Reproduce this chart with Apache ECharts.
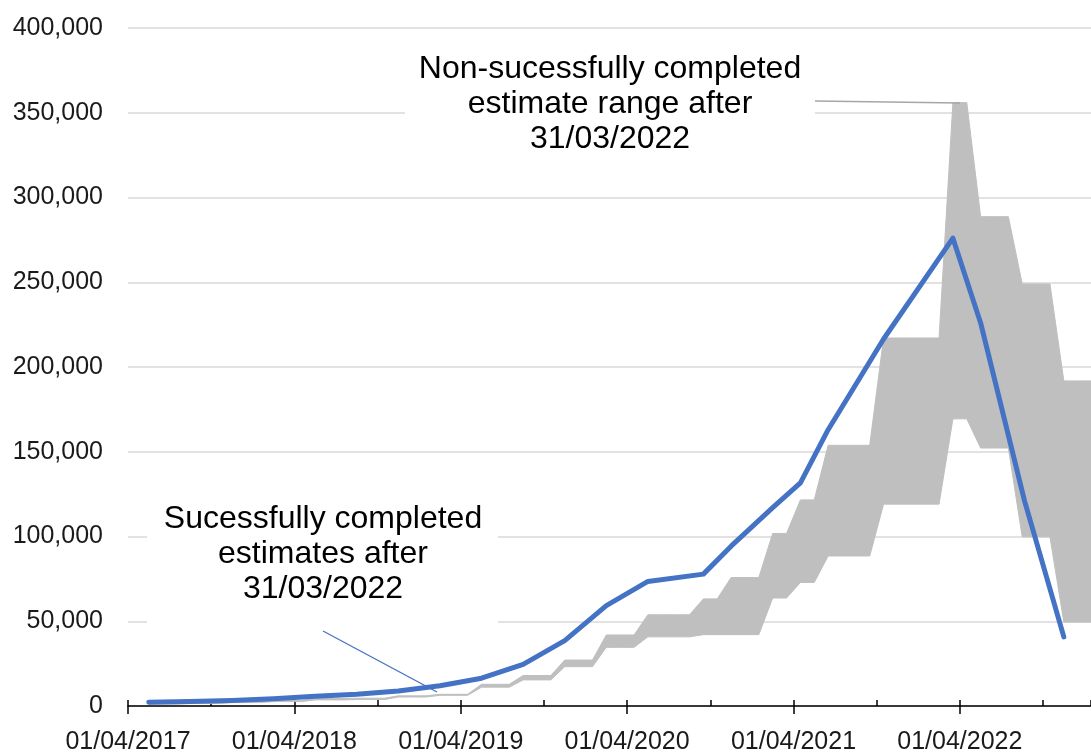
<!DOCTYPE html>
<html>
<head>
<meta charset="utf-8">
<script src="https://cdn.jsdelivr.net/npm/echarts@6/dist/echarts.min.js"></script>
<style>
  html, body { margin: 0; padding: 0; background: #fff; }
  #chart { width: 1091px; height: 755px; }
</style>
</head>
<body>
<div id="chart"></div>
<script>
// completed estimates (blue line)
const blueDates = [
  '2017-05-16', '2017-08-16', '2017-11-16', '2018-02-16', '2018-05-16', '2018-08-16',
  '2018-11-16', '2019-02-16', '2019-05-16', '2019-08-16', '2019-11-16', '2020-02-16',
  '2020-05-16', '2020-09-16', '2020-11-16', '2021-02-16', '2021-04-16', '2021-06-16',
  '2021-10-16', '2022-03-16', '2022-05-16', '2022-08-21', '2022-11-16'
];
const blueValues = [
  2200, 2700, 3300, 4300, 5800, 7000,
  8900, 11900, 16400, 24600, 38600, 59200,
  73500, 77800, 94300, 117000, 131600, 163000,
  216500, 276000, 226000, 121000, 40800
];

// non-completed estimate range (grey band), monthly
const bandMonths = [
  '2017-05', '2017-06', '2017-07', '2017-08', '2017-09', '2017-10', '2017-11', '2017-12',
  '2018-01', '2018-02', '2018-03', '2018-04', '2018-05', '2018-06', '2018-07', '2018-08', '2018-09', '2018-10', '2018-11', '2018-12',
  '2019-01', '2019-02', '2019-03', '2019-04', '2019-05', '2019-06', '2019-07', '2019-08', '2019-09', '2019-10', '2019-11', '2019-12',
  '2020-01', '2020-02', '2020-03', '2020-04', '2020-05', '2020-06', '2020-07', '2020-08', '2020-09', '2020-10', '2020-11', '2020-12',
  '2021-01', '2021-02', '2021-03', '2021-04', '2021-05', '2021-06', '2021-07', '2021-08', '2021-09', '2021-10', '2021-11', '2021-12',
  '2022-01', '2022-02', '2022-03', '2022-04', '2022-05', '2022-06', '2022-07', '2022-08', '2022-09', '2022-10', '2022-11', '2022-12',
  '2023-01'
];
const bandLow = [
  1200, 1200, 1200, 1500, 1500, 1500, 2000, 2000,
  2000, 2600, 2600, 2600, 3600, 3600, 3600, 3800, 3800, 3800, 5300, 5300,
  5300, 6300, 6300, 6300, 11100, 11100, 11100, 15400, 15400, 15400, 23200, 23200,
  23200, 34600, 34600, 34600, 40800, 40800, 40800, 40800, 42100, 42100, 42100, 42100,
  42100, 63700, 63700, 72900, 72900, 88500, 88500, 88500, 88500, 119100, 119100, 119100,
  119100, 119100, 169400, 169400, 152200, 152200, 152200, 99800, 99800, 99800, 49500, 49500,
  49500
];
const bandHigh = [
  1900, 1900, 1900, 2200, 2200, 2200, 2700, 2700,
  2700, 3300, 3300, 3300, 4400, 4400, 4400, 4600, 4600, 4600, 6000, 6000,
  6000, 6900, 6900, 6900, 12800, 12800, 12800, 18000, 18000, 18000, 27100, 27100,
  27100, 41900, 41900, 41900, 53800, 53800, 53800, 53800, 63200, 63200, 75800, 75800,
  75800, 101800, 101800, 121600, 121600, 153800, 153800, 153800, 153800, 217100, 217100, 217100,
  217100, 217100, 356000, 356000, 288700, 288700, 288700, 249000, 249000, 249000, 191800, 191800,
  191800
];

const xTickLabels = ['01/04/2017', '01/04/2018', '01/04/2019', '01/04/2020', '01/04/2021', '01/04/2022'];

// months since 01/04/2017
function toMonths(s) {
  const p = s.split('-');
  const day = p[2] ? +p[2] : 16;
  return (+p[0] - 2017) * 12 + (+p[1] - 4) + (day - 1) / 30;
}

const blueData = blueDates.map((d, i) => [toMonths(d), blueValues[i]]);
const bandData = bandMonths.map((d, i) => [toMonths(d), bandLow[i], bandHigh[i]]);

const font = 'Liberation Sans, Arial, sans-serif';
const xMax = 69.46; // the picture is cut off here, mid January 2023

const chart = echarts.init(document.getElementById('chart'));

// whole band drawn as one polygon: upper edge forwards, lower edge back
function renderBand(params, api) {
  if (params.dataIndex !== 0) return;
  const top = bandData.map(d => api.coord([d[0], d[2]]));
  const bottom = bandData.map(d => api.coord([d[0], d[1]])).reverse();
  return {
    type: 'polygon',
    shape: { points: top.concat(bottom) },
    style: { fill: '#bfbfbf', stroke: '#bfbfbf', lineWidth: 1 }
  };
}

const option = {
  animation: false,
  backgroundColor: '#fff',
  grid: { left: 128, right: 0, top: 28, bottom: 43, containLabel: false },
  xAxis: [
    {
      type: 'value', position: 'bottom', min: 0, max: xMax, interval: 12,
      axisLine: { show: true, onZero: false, lineStyle: { color: '#000', width: 1.5 } },
      axisTick: { show: true, inside: false, length: 8, lineStyle: { color: '#000', width: 1.5 } },
      splitLine: { show: false },
      axisLabel: {
        show: true, margin: 24, color: '#1a1a1a', fontSize: 25, fontFamily: font,
        showMaxLabel: false,
        formatter: v => xTickLabels[Math.round(v / 12)] || ''
      }
    },
    {
      // half-year ticks above the axis line
      type: 'value', position: 'bottom', min: 0, max: xMax, interval: 6,
      axisLine: { show: false },
      axisTick: { show: true, inside: true, length: 6, lineStyle: { color: '#000', width: 1.5 } },
      splitLine: { show: false },
      axisLabel: { show: false }
    }
  ],
  yAxis: {
    type: 'value', min: 0, max: 400000, interval: 50000,
    axisLine: { show: false },
    axisTick: { show: false },
    splitLine: { show: true, lineStyle: { color: '#d9d9d9', width: 1.5 } },
    axisLabel: {
      margin: 25, color: '#1a1a1a', fontSize: 25, fontFamily: font,
      formatter: v => v.toLocaleString('en-US')
    }
  },
  series: [
    {
      name: 'range', type: 'custom', renderItem: renderBand,
      data: bandData, encode: { x: 0, y: [1, 2] }, z: 2
    },
    {
      name: 'completed', type: 'line', data: blueData,
      symbol: 'none', lineStyle: { width: 5, color: '#4472c4', cap: 'round', join: 'round' }, z: 3
    }
  ],
  graphic: [
    { type: 'rect', z: 10, shape: { x: 405, y: 45, width: 410, height: 115 }, style: { fill: '#fff' } },
    {
      type: 'text', z: 11, x: 610, y: 52,
      style: {
        text: 'Non-sucessfully completed\nestimate range after\n31/03/2022',
        font: '32px ' + font, lineHeight: 35, fill: '#000',
        textAlign: 'center', textVerticalAlign: 'top'
      }
    },
    { type: 'line', z: 11, shape: { x1: 815, y1: 101, x2: 960, y2: 103 }, style: { stroke: '#a6a6a6', lineWidth: 1.5 } },
    { type: 'rect', z: 10, shape: { x: 147, y: 490, width: 351, height: 141 }, style: { fill: '#fff' } },
    {
      type: 'text', z: 11, x: 323, y: 502,
      style: {
        text: 'Sucessfully completed\nestimates after\n31/03/2022',
        font: '32px ' + font, lineHeight: 35, fill: '#000',
        textAlign: 'center', textVerticalAlign: 'top'
      }
    },
    { type: 'line', z: 11, shape: { x1: 323, y1: 631, x2: 437, y2: 692 }, style: { stroke: '#4472c4', lineWidth: 1.3 } }
  ]
};

chart.setOption(option);
</script>
</body>
</html>
